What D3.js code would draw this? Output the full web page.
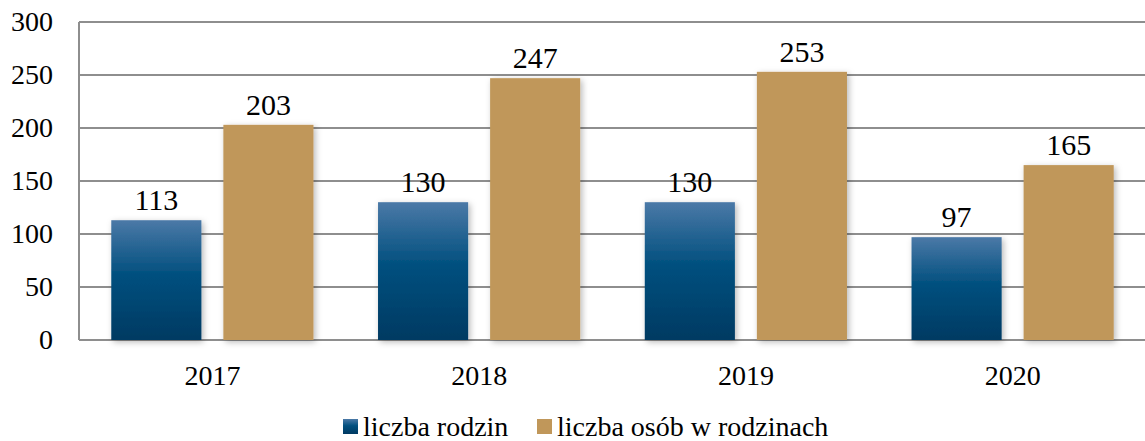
<!DOCTYPE html>
<html>
<head>
<meta charset="utf-8">
<script src="https://cdn.jsdelivr.net/npm/d3@7"></script>
<style>
  html, body { margin: 0; padding: 0; background: #fff; }
  svg { display: block; font-family: "Liberation Serif", "DejaVu Serif", serif; }
</style>
</head>
<body>
<svg id="chart" width="1145" height="441"></svg>
<script>
// Data
const years = ['2017', '2018', '2019', '2020'];
const families = [113, 130, 130, 97];
const persons = [203, 247, 253, 165];
const seriesNames = ['liczba rodzin', 'liczba osób w rodzinach'];
const yTicks = [0, 50, 100, 150, 200, 250, 300];

const width = 1145, height = 441;
const margin = { top: 22, right: -1, bottom: 101, left: 79 };

const svg = d3.select('#chart');
const defs = svg.append('defs');

// Blue gradient for the first series
const grad = defs.append('linearGradient')
  .attr('id', 'blueGrad')
  .attr('x1', 0).attr('y1', 0).attr('x2', 0).attr('y2', 1);
grad.append('stop').attr('offset', '0%').attr('stop-color', '#4b79a7');
grad.append('stop').attr('offset', '45%').attr('stop-color', '#02507f');
grad.append('stop').attr('offset', '100%').attr('stop-color', '#003a62');

// soft shadow under bars
const shadow = defs.append('filter')
  .attr('id', 'shadow')
  .attr('x', '-20%').attr('y', '-10%')
  .attr('width', '140%').attr('height', '120%');
shadow.append('feDropShadow')
  .attr('dx', 2).attr('dy', 2)
  .attr('stdDeviation', 3)
  .attr('flood-color', '#000')
  .attr('flood-opacity', 0.28);

const colors = ['url(#blueGrad)', '#c0975a'];

const x0 = d3.scaleBand()
  .domain(years)
  .range([margin.left, width - margin.right])
  .paddingInner(0)
  .paddingOuter(0);

// two bars per year, ~90px wide with a ~22px gap
const x1 = d3.scaleBand()
  .domain([0, 1])
  .range([0, x0.bandwidth()])
  .paddingInner(0.196)
  .paddingOuter(0.288);

const y = d3.scaleLinear()
  .domain([0, 300])
  .range([height - margin.bottom, margin.top]);

// Gridlines
svg.append('g')
  .selectAll('line')
  .data(yTicks)
  .join('line')
  .attr('x1', margin.left)
  .attr('x2', width)
  .attr('y1', d => y(d))
  .attr('y2', d => y(d))
  .attr('stroke', '#8e8e8e')
  .attr('stroke-width', 2);

// Left axis line
svg.append('line')
  .attr('x1', margin.left).attr('x2', margin.left)
  .attr('y1', y(300)).attr('y2', y(0))
  .attr('stroke', '#8e8e8e')
  .attr('stroke-width', 2);

// Y tick labels
svg.append('g')
  .selectAll('text')
  .data(yTicks)
  .join('text')
  .attr('x', 53)
  .attr('y', d => y(d) + 9)
  .attr('text-anchor', 'end')
  .attr('font-size', 28)
  .attr('fill', '#000')
  .text(d => d);

// Bars
const series = [families, persons];
const groups = svg.append('g')
  .selectAll('g')
  .data(years)
  .join('g')
  .attr('transform', d => `translate(${x0(d)},0)`);

groups.selectAll('rect')
  .data((d, i) => series.map((s, k) => ({ k, v: s[i] })))
  .join('rect')
  .attr('x', d => x1(d.k))
  .attr('width', x1.bandwidth())
  .attr('y', d => y(d.v))
  .attr('height', d => y(0) - y(d.v))
  .attr('fill', d => colors[d.k])
  .attr('filter', 'url(#shadow)');

// value labels
groups.selectAll('text')
  .data((d, i) => series.map((s, k) => ({ k, v: s[i] })))
  .join('text')
  .attr('x', d => x1(d.k) + x1.bandwidth() / 2)
  .attr('y', d => y(d.v) - 10)
  .attr('text-anchor', 'middle')
  .attr('font-size', 30)
  .attr('fill', '#000')
  .text(d => d.v);

// X labels
svg.append('g')
  .selectAll('text')
  .data(years)
  .join('text')
  .attr('x', d => x0(d) + x0.bandwidth() / 2)
  .attr('y', 385)
  .attr('text-anchor', 'middle')
  .attr('font-size', 28)
  .attr('fill', '#000')
  .text(d => d);

// Legend
const legendX = [343, 537];
const legend = svg.append('g')
  .selectAll('g')
  .data(seriesNames)
  .join('g')
  .attr('transform', (d, i) => `translate(${legendX[i]},419)`);

legend.append('rect')
  .attr('width', 15).attr('height', 15)
  .attr('fill', (d, i) => colors[i]);

legend.append('text')
  .attr('x', 20)
  .attr('y', 17)
  .attr('font-size', 28)
  .attr('fill', '#000')
  .text(d => d);
</script>
</body>
</html>
